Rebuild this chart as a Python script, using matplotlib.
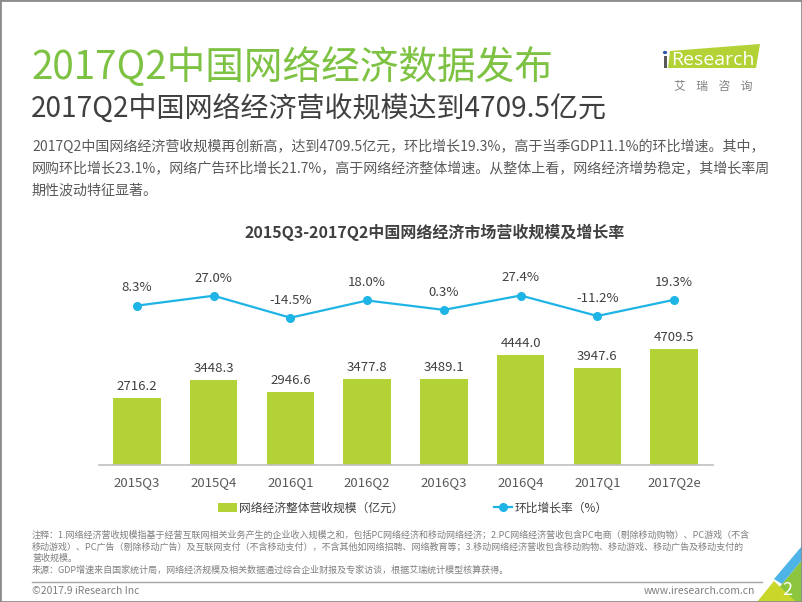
import matplotlib
matplotlib.use("Agg")
import matplotlib.pyplot as plt
from matplotlib.patches import Polygon, Rectangle
from matplotlib.lines import Line2D

plt.rcParams['font.family'] = ['Noto Sans CJK SC', 'DejaVu Sans']

# ---- data ----
categories = ["2015Q3", "2015Q4", "2016Q1", "2016Q2", "2016Q3", "2016Q4", "2017Q1", "2017Q2e"]
revenue = [2716.2, 3448.3, 2946.6, 3477.8, 3489.1, 4444.0, 3947.6, 4709.5]
growth = [8.3, 27.0, -14.5, 18.0, 0.3, 27.4, -11.2, 19.3]
bar_label = "网络经济整体营收规模（亿元）"
line_label = "环比增长率（%）"

title = "2017Q2中国网络经济数据发布"
subtitle = "2017Q2中国网络经济营收规模达到4709.5亿元"
body = [
    "2017Q2中国网络经济营收规模再创新高，达到4709.5亿元，环比增长19.3%，高于当季GDP11.1%的环比增速。其中，",
    "网购环比增长23.1%，网络广告环比增长21.7%，高于网络经济整体增速。从整体上看，网络经济增势稳定，其增长率周",
    "期性波动特征显著。",
]
chart_title = "2015Q3-2017Q2中国网络经济市场营收规模及增长率"
notes = [
    "注释：1.网络经济营收规模指基于经营互联网相关业务产生的企业收入规模之和，包括PC网络经济和移动网络经济；2.PC网络经济营收包含PC电商（剔除移动购物）、PC游戏（不含",
    "移动游戏）、PC广告（剔除移动广告）及互联网支付（不含移动支付），不含其他如网络招聘、网络教育等；3.移动网络经济营收包含移动购物、移动游戏、移动广告及移动支付的",
    "营收规模。",
    "来源：GDP增速来自国家统计局，网络经济规模及相关数据通过综合企业财报及专家访谈，根据艾瑞统计模型核算获得。",
]
footer_left = "©2017.9 iResearch Inc"
footer_right = "www.iresearch.com.cn"
page = "2"

W, H = 802, 602
BAR_C = "#B2D235"
LINE_C = "#1FB4E6"
TXT = "#404040"

fig = plt.figure(figsize=(W / 100, H / 100), dpi=100)

def fx(x):
    return x / W

def fy(y):
    return 1 - y / H

def T(x, y, s, **kw):
    kw.setdefault("va", "center")
    return fig.text(fx(x), fy(y), s, **kw)

# frame
fig.patches.append(Rectangle((0, 0), 1, 1, transform=fig.transFigure, fill=False,
                             edgecolor="#8C8C8C", linewidth=2.0, zorder=10))

# titles
T(31, 68, title, fontsize=27.8, color="#7DC242", fontweight="light")
T(31, 110, subtitle, fontsize=20.2, color=TXT)
for i, line in enumerate(body):
    T(32, 147 + 22 * i, line, fontsize=10.1, color="#595959")
T(435, 232, chart_title, fontsize=11.5, color=TXT, ha="center", fontweight="bold")

# logo
fig.patches.append(Polygon([(fx(670), fy(51)), (fx(760), fy(44)), (fx(756), fy(68)), (fx(668), fy(68))],
                           closed=True, transform=fig.transFigure, facecolor="#B2D235", edgecolor="none"))
fig.patches.append(Rectangle((fx(663.5), fy(68)), 3 / W, 12 / H, transform=fig.transFigure,
                             facecolor="#595959", edgecolor="none"))
fig.patches.append(plt.Circle((fx(665), fy(52.5)), 2.2 / W, transform=fig.transFigure,
                              facecolor="#2B5BA8", edgecolor="none"))
T(671, 60, "Research", fontsize=14, color="white", family="Open Sans")
T(713, 86, "艾    瑞    咨    询", fontsize=8.5, color="#808080", ha="center")

# chart axes
ax = fig.add_axes([fx(98.5), fy(465), 614 / W, 205 / H])
x = list(range(len(categories)))
bars = ax.bar(x, revenue, width=0.62, color=BAR_C, label=bar_label, zorder=2)
ax.set_xlim(-0.5, len(categories) - 0.5)
ax.set_ylim(0, 8316)
ax.set_xticks(x)
ax.set_xticklabels(categories, fontsize=9.5, color="#595959")
ax.tick_params(axis="x", length=0, pad=8)
ax.set_yticks([])
for s in ["top", "left", "right"]:
    ax.spines[s].set_visible(False)
ax.spines["bottom"].set_color("#BFBFBF")
ax.spines["bottom"].set_linewidth(1.2)
ax.patch.set_alpha(0)
for xi, v in zip(x, revenue):
    ax.annotate(f"{v:.1f}", (xi, v), xytext=(0, 8.3), textcoords="offset points",
                ha="center", va="center", fontsize=9.5, color=TXT)

ax2 = ax.twinx()
ax2.set_ylim(-292.4, 94.4)
ln, = ax2.plot(x, growth, color=LINE_C, linewidth=1.6, marker="o", markersize=5.5, label=line_label, zorder=3)
ax2.set_yticks([])
for s in ["top", "left", "right", "bottom"]:
    ax2.spines[s].set_visible(False)
for xi, v in zip(x, growth):
    ax2.annotate(f"{v:.1f}%", (xi, v), xytext=(0, 12.7), textcoords="offset points",
                 ha="center", va="center", fontsize=9.5, color=TXT)

fig.legend(handles=[bars, ln], labels=[bar_label, line_label], loc="center",
           bbox_to_anchor=(fx(413), fy(508)), ncol=2, frameon=False, fontsize=8.5,
           handlelength=1.6, handletextpad=0.2, columnspacing=7.6, labelcolor=TXT)

# notes
for i, line in enumerate(notes):
    T(32, 535 + 11.7 * i, line, fontsize=6.5, color="#7F7F7F")
fig.add_artist(Line2D([fx(32), fx(762)], [fy(581.5), fy(581.5)], color="#A6A6A6", linewidth=1))
T(32, 591, footer_left, fontsize=7.5, color="#7F7F7F")
T(755, 591, footer_right, fontsize=7.5, color="#7F7F7F", ha="right")

# corner decoration
def poly(pts, c):
    fig.patches.append(Polygon([(fx(a), fy(b)) for a, b in pts], closed=True,
                               transform=fig.transFigure, facecolor=c, edgecolor="none"))
poly([(802, 560), (802, 602), (768, 602), (782, 584)], "#8CC63F")
poly([(757, 602), (774, 581), (796, 602)], "#C9D72B")
poly([(802, 546), (802, 560), (782, 584), (774, 579)], "#4EB3E6")
T(787, 590, page, fontsize=13, color="white", ha="center")

fig.savefig("out.png", dpi=100)
